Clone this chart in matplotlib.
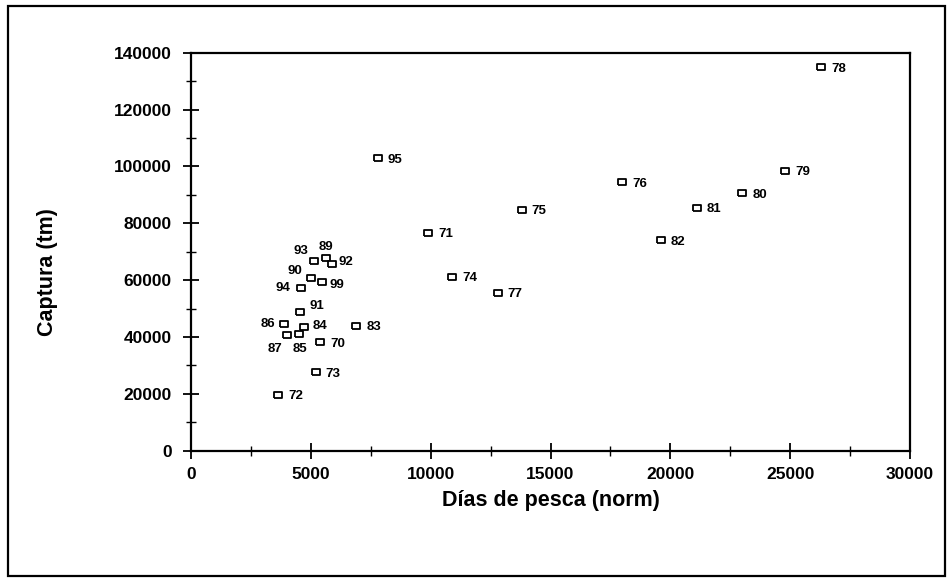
import matplotlib
matplotlib.use("Agg")
import matplotlib.pyplot as plt
from matplotlib.patches import Rectangle
from matplotlib.ticker import MultipleLocator

plt.rcParams["font.family"] = ["Liberation Sans", "DejaVu Sans"]
plt.rcParams["font.weight"] = "bold"

# Días de pesca normalizados y captura por año
anios = ["70", "71", "72", "73", "74", "75", "76", "77", "78", "79",
         "80", "81", "82", "83", "84", "85", "86", "87", "89", "90",
         "91", "92", "93", "94", "95", "99"]
dias = [5400, 9900, 3650, 5200, 10900, 13800, 18000, 12800, 26300, 24800,
        23000, 21100, 19600, 6900, 4700, 4500, 3900, 4000, 5650, 5000,
        4550, 5900, 5150, 4600, 7800, 5450]
captura = [38200, 76600, 19600, 27600, 61100, 84700, 94500, 55500, 134900, 98400,
           90600, 85400, 74100, 43900, 43500, 41000, 44500, 40800, 67900, 60600,
           48900, 65600, 66700, 57100, 102900, 59400]

# posición del centro de la etiqueta en puntos (por defecto a la derecha)
desplaza = {"93": (-9.5, 8), "89": (0, 8.5), "92": (10, 3), "90": (-11.5, 6.5),
            "99": (11, -1), "94": (-13, 1.5), "91": (12, 5), "86": (-12, 1),
            "84": (11.5, 2), "87": (-8.5, -9.5), "85": (0.7, -9.5)}

fig = plt.figure(figsize=(9.52, 5.81), dpi=100)
ax = fig.add_axes([0.2006, 0.2243, 0.7554, 0.685])

rect_marker = [(-1, -0.6), (1, -0.6), (1, 0.6), (-1, 0.6), (-1, -0.6)]
ax.plot(dias, captura, linestyle="none", marker=rect_marker, markersize=6.2,
        markerfacecolor="white", markeredgecolor="black", markeredgewidth=1.3)

for a, x, y in zip(anios, dias, captura):
    dx, dy = desplaza.get(a, (12.5, 0))
    ax.annotate(a, (x, y), xytext=(dx, dy), textcoords="offset points",
                ha="center", va="center_baseline", fontsize=9.5, fontweight="bold")

ax.set_xlim(0, 30000)
ax.set_ylim(0, 140000)
ax.xaxis.set_major_locator(MultipleLocator(5000))
ax.xaxis.set_minor_locator(MultipleLocator(2500))
ax.yaxis.set_major_locator(MultipleLocator(20000))
ax.yaxis.set_minor_locator(MultipleLocator(10000))
ax.tick_params(which="major", direction="inout", length=12, width=1.3,
               labelsize=12.5, pad=6)
ax.tick_params(which="minor", direction="inout", length=7, width=1.0)
ax.tick_params(axis="y", pad=8)
for s in ax.spines.values():
    s.set_linewidth(1.6)

ax.set_xlabel("Días de pesca (norm)", fontsize=15.5, fontweight="bold")
ax.set_ylabel("Captura (tm)", fontsize=15.5, fontweight="bold")
ax.xaxis.set_label_coords(0.5, -0.1)
ax.yaxis.set_label_coords(-0.185, 0.45)

fig.patches.append(Rectangle((8 / 952, 5 / 581), 937 / 952, 570 / 581,
                             transform=fig.transFigure, fill=False,
                             edgecolor="black", linewidth=1.6))

fig.savefig("out.png", dpi=100)
